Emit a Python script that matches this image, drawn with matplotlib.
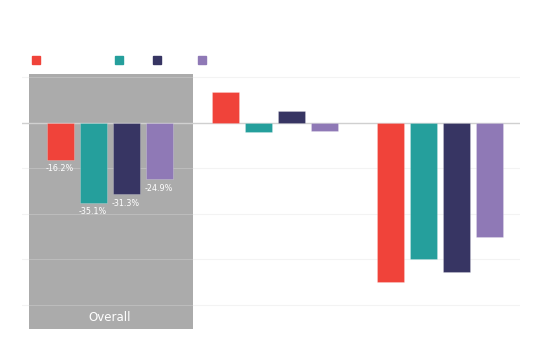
import numpy as np
import matplotlib.pyplot as plt
from matplotlib.patches import Rectangle, FancyBboxPatch

groups = ['Overall', '', '']
series_colors = ['#f0433a', '#259f9c', '#373563', '#8f79b6']
red_vals = [-16.2, 13.6, -69.8]
teal_vals = [-35.1, -4.0, -59.6]
navy_vals = [-31.3, 5.3, -65.4]
purple_vals = [-24.9, -3.5, -50.1]
grid_ticks = [20, 0, -20, -40, -60, -80]

fig = plt.figure(figsize=(5.4, 3.41), dpi=100)
ax = fig.add_axes([0.04, 0.035, 0.923, 0.748])

x = np.arange(len(groups))
pitch = 0.2
width = 0.164
all_vals = [red_vals, teal_vals, navy_vals, purple_vals]

# highlight box behind the first group
ax.add_patch(Rectangle((-0.488, -90.5), 0.99, 111.8, color='#ababab', zorder=0, lw=0))

for t in grid_ticks:
    if t == 0:
        ax.axhline(t, color='#d0d0d0', lw=1.0, zorder=1)
    else:
        ax.axhline(t, color='#dddddd', lw=0.8, zorder=1, alpha=0.35)

for i, vals in enumerate(all_vals):
    pos = x + (i - 1.5) * pitch
    ax.bar(pos, vals, width, color=series_colors[i], zorder=2,
           edgecolor=(1, 1, 1, 0.3), linewidth=0.5)
    # labels only for the highlighted group
    ax.text(pos[0], vals[0] - 2.0, f'{vals[0]:.1f}%', color='white',
            fontsize=5.8, ha='center', va='top', zorder=3)

ax.text(x[0], -85.5, groups[0], color='white', fontsize=8.5,
        ha='center', va='center', zorder=3)

ax.set_xlim(-0.533, 2.485)
ax.set_ylim(-90.5, 21.3)
ax.axis('off')

# legend squares (labels are blank in the original)
leg_x = [32, 115, 153, 198]
for i, px in enumerate(leg_x):
    fig.patches.append(Rectangle((px / 540, 1 - 64 / 341), 8 / 540, 8 / 341,
                                 transform=fig.transFigure, color=series_colors[i]))

fig.savefig('out.png', dpi=100)
